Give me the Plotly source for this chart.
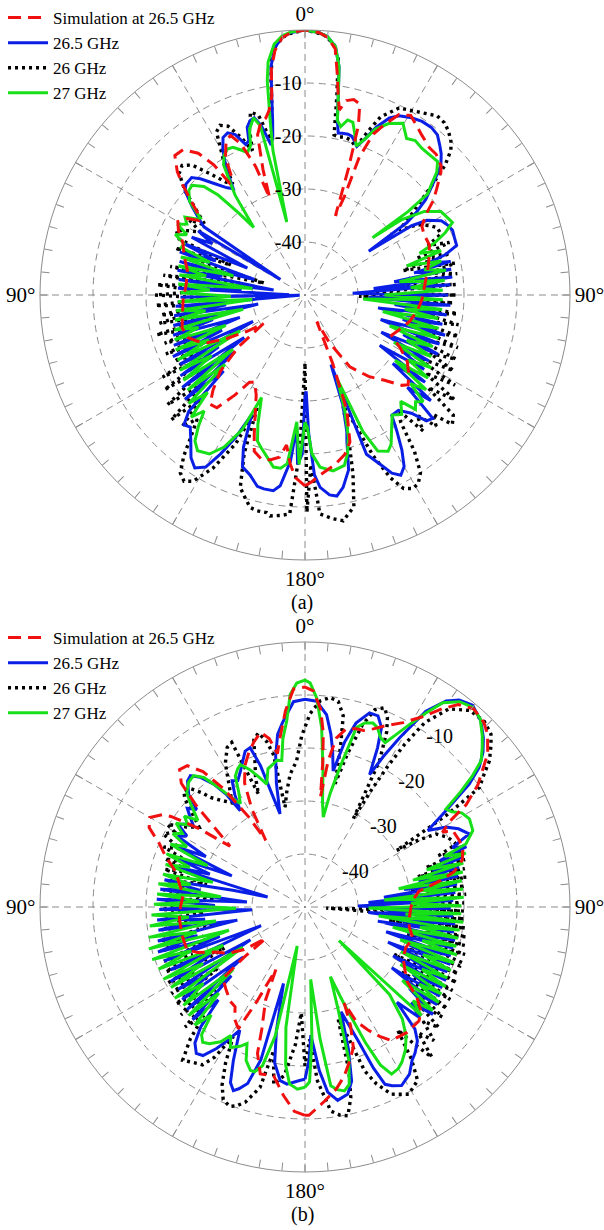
import plotly.graph_objects as go

# ---------------- data: (angle in degrees, normalized gain in dB) ----------------
A_SIM = [(-180,-14),(-177,-15.5),(-175,-18),(-173,-21.5),(-171,-19),(-168,-18.2),(-165,-18),(-162,-19),(-160,-22),(-157,-26),(-154,-29),(-150,-31),(-147.5,-30.5),(-145,-27),(-142,-23),(-139,-22.7),(-136,-25),(-132,-28.5),(-128,-34),(-124.5,-40.5),(-122,-37),(-119,-33),(-116,-29.5),(-113,-27.8),(-110,-26.5),(-105,-26),(-100,-26.5),(-92,-27),(-85,-27.5),(-78,-27.3),(-72,-26),(-67,-25),(-63,-23.2),(-60,-22.3),(-57,-23.5),(-55,-25.5),(-52.5,-24.4),(-50,-21.5),(-48,-19),(-46,-16.5),(-43,-14),(-40,-14.2),(-37,-16.5),(-35,-20),(-34,-24.5),(-32,-24),(-30,-20),(-27,-17.2),(-25,-16.8),(-23,-19),(-21,-24),(-20,-30.5),(-18.5,-25),(-16.5,-18.5),(-14.5,-16.5),(-12.5,-15.8),(-11,-14.5),(-9.5,-12),(-8.5,-7),(-7,-3.5),(-5,-1.2),(-3,-0.4),(0,0),(3,-0.4),(5,-1.2),(7,-3.2),(8.2,-7.5),(9.5,-12),(10.5,-14.5),(12,-12.5),(14,-12),(16,-12.5),(17.5,-16.5),(19,-25),(21,-34),(21.8,-30),(21.5,-22),(23,-17),(25,-14.5),(27.5,-11.6),(30.5,-10.7),(33,-11.6),(36,-12.6),(40,-13.6),(43,-13.7),(46.5,-14.6),(48,-15.5),(51,-18),(53.5,-19.8),(56,-22.3),(59.5,-24.4),(63,-24.8),(68,-24.7),(73,-25.5),(78,-26.3),(85,-27.3),(92,-27.9),(98,-28.6),(104,-29.6),(110,-31),(115,-32),(119,-29.5),(123,-27),(127,-25.5),(131,-24.2),(133,-25),(137,-28),(142,-30.5),(148,-34),(153,-40),(156,-44.5),(158,-36),(160,-27),(163,-21),(166,-19),(170,-17.5),(175,-16),(178,-14.7),(180,-14)]

A_265 = [(-180,-31),(-179,-20),(-177.5,-18),(-176.4,-25),(-175,-18.5),(-172.6,-13.7),(-170.8,-12.6),(-168,-12.6),(-166,-12.8),(-163,-14.5),(-160,-15.5),(-158,-19),(-156,-25.3),(-154,-20),(-152,-16),(-150,-12.5),(-147.5,-11.3),(-145,-12.5),(-142,-15),(-139,-17),(-137,-16.5),(-135,-19),(-133,-29),(-131,-20),(-129,-33),(-127,-21),(-125,-36),(-123,-22),(-121,-31),(-119,-23),(-117,-39),(-115,-22.5),(-113,-33),(-111,-23.5),(-109,-37),(-107,-24),(-105,-32),(-103,-24.5),(-101,-41),(-99,-25),(-97,-35),(-95,-25.5),(-93,-49),(-91,-26.5),(-89,-47),(-87,-26),(-85,-38),(-83,-26),(-81,-44),(-79,-25.5),(-77,-34),(-75,-25.5),(-73,-40),(-71,-25),(-69,-32),(-67,-25),(-65,-38),(-63,-26),(-61,-30),(-59,-26.5),(-57.6,-44.5),(-56,-27),(-55,-26),(-52,-23),(-49,-20),(-47,-19.3),(-44,-19.2),(-42,-20.5),(-39,-23),(-36,-25),(-34,-25.8),(-32,-22),(-29.5,-18.5),(-27.5,-16.5),(-25.5,-16.1),(-23.5,-17),(-21.5,-19.5),(-20,-19),(-19,-16.5),(-17.5,-15.5),(-16,-15.2),(-14.5,-17),(-12.7,-21),(-11.5,-19.5),(-10.5,-16.5),(-9.5,-12),(-8.5,-6.5),(-7,-3),(-5,-1.1),(-3,-0.4),(0,0),(3,-0.4),(5,-1.1),(7,-2.8),(8.5,-6.5),(9.5,-12),(10.5,-16.5),(11.6,-18.8),(13,-18.7),(15,-18.6),(16.5,-18.8),(18,-19.6),(19.2,-20.3),(21,-18.5),(23,-15.6),(25.5,-13),(27.7,-11.8),(31,-11),(34,-10.5),(37,-10.4),(39.6,-10.8),(42,-12),(44,-13),(46.4,-14.6),(49,-18),(51.7,-21),(53.5,-24),(54.6,-26.4),(55.5,-35.4),(57,-26),(58.5,-23),(61.4,-20.7),(64,-20),(66.3,-19.6),(69,-19.8),(71.9,-19.9),(74,-22.5),(75.5,-26),(77,-21.8),(78.5,-29),(80,-22),(81.5,-33),(83,-22),(84.5,-37),(86,-22.5),(88,-41),(90,-23),(92,-38),(94,-22.5),(96,-33),(98,-23),(100,-36),(102,-23.5),(104,-31),(106,-22.5),(108,-35),(110,-23),(112,-30),(114,-22.5),(116,-34),(118,-23.5),(120,-29),(122,-23.5),(124,-33),(126,-22),(128,-29),(130,-19),(132,-24),(134,-16.5),(136,-17),(138,-20),(141,-22),(144.2,-22),(146,-19),(148,-15.5),(150,-12.6),(152,-11.5),(154,-12.6),(156,-15),(158.9,-17.8),(159.5,-36),(161,-28),(163,-23),(164,-21.3),(166,-16),(168.8,-13),(171,-11.6),(173,-12),(175.5,-13.6),(177,-16),(178.5,-24),(179.3,-31.8),(180,-31)]

A_26 = [(-180,-37),(-178,-20),(-176,-8.6),(-174,-8.2),(-171,-7.8),(-170,-8.3),(-167.5,-8.3),(-165.5,-8.6),(-163,-10.5),(-161.4,-11.7),(-159,-18),(-157,-27),(-155,-19),(-152,-13),(-149,-9),(-147,-8.1),(-145,-9),(-143,-12),(-141,-16),(-139,-19),(-137,-16),(-135,-22),(-133,-15.5),(-131,-25),(-128.6,-16.8),(-126,-27),(-124,-18),(-122,-28),(-120,-19),(-118,-27),(-116.9,-22.3),(-115,-30),(-113,-21.5),(-111,-31),(-109,-22),(-107,-29),(-105,-21),(-103,-33),(-101,-22),(-99,-28),(-97.9,-22.5),(-96,-30),(-94,-21.7),(-92,-32),(-90,-21.7),(-88,-30),(-86,-22),(-84,-34),(-82,-23),(-80,-38),(-78,-24),(-76,-36),(-73.8,-42),(-72,-30),(-70,-24),(-68,-35),(-66,-24),(-63.3,-22.8),(-61,-25),(-59,-27),(-57,-24),(-55,-27),(-52,-24),(-49,-20),(-46,-17),(-43.5,-16.3),(-41,-17.5),(-38,-21),(-35,-24),(-33,-25),(-31,-20),(-28.5,-15),(-26.6,-14.2),(-24.5,-15),(-22,-18),(-20,-21),(-18.5,-17),(-16.6,-14),(-14.5,-15),(-12.5,-20),(-11,-17.5),(-10,-14),(-9,-9),(-8,-5),(-6.5,-2.3),(-4,-0.7),(0,0),(4,-0.7),(6.5,-2.3),(8,-5),(9.1,-12),(10.3,-19.3),(12,-19.5),(14,-19.3),(16.5,-19.5),(19,-20.5),(21,-17),(23,-13.5),(26.7,-10.5),(31.7,-9.4),(36.4,-8),(39,-8.2),(41.2,-8.9),(43.5,-10),(45.2,-11.2),(47.2,-14),(49,-18),(51,-22),(53,-25),(55.5,-28.4),(58,-25),(61,-23),(63,-22),(65.9,-21.9),(68,-25),(70,-21),(72,-28),(74,-21.5),(76,-31),(78,-21),(80,-26),(82,-21),(84,-33),(86,-21.5),(88,-37),(90,-21.5),(91.5,-39.8),(93,-22),(95,-30),(97,-21),(99,-27),(101,-20.5),(103,-29),(105,-20),(107,-26),(109,-19.5),(111,-28),(113,-19),(115,-24),(117,-18.5),(119,-26),(121,-17),(123,-23),(125,-15.5),(127,-21),(129,-14),(131.3,-13),(133,-17),(135,-15),(137,-19),(139,-16),(141,-22),(143,-20),(145,-14),(147,-10),(149,-8.5),(150.8,-8.2),(153,-9),(155,-12),(157,-17),(159,-24),(161,-28),(163,-22),(165,-15),(167,-9),(170.4,-6.8),(173,-7.5),(176.1,-8.6),(178,-18),(179.5,-9),(180,-37)]

A_27 = [(-180,-26),(-178,-18),(-176.3,-26),(-174,-18),(-172,-17),(-169.6,-17),(-167,-18.5),(-164,-20),(-162,-21),(-160,-24),(-157,-29),(-155,-22),(-152,-17.5),(-149,-15),(-145.4,-14.3),(-143,-15.5),(-141,-18),(-139,-21),(-137,-18.5),(-135,-24),(-133,-20),(-131,-30),(-129,-21.5),(-127,-33),(-125,-22),(-123,-29),(-121,-22.5),(-119,-36),(-117,-23),(-115,-30),(-113,-23.5),(-111,-34),(-109,-24),(-107,-29),(-105,-24.5),(-103,-38),(-101,-25),(-99,-31),(-97,-25.5),(-95,-40),(-93,-26),(-91,-36),(-89,-26.5),(-87,-32),(-85,-26),(-83,-40),(-81,-26),(-79,-31),(-77,-25.5),(-75,-36),(-73,-25.5),(-71,-31),(-69,-25),(-67,-25.2),(-65,-23),(-63,-25),(-61,-22.5),(-59,-24),(-57,-23),(-55,-25),(-53.7,-25.5),(-51,-22),(-48,-20.5),(-45.8,-20.3),(-43,-22),(-41,-25),(-39,-30),(-37.2,-34),(-35,-27),(-32,-21),(-30,-19.5),(-28,-18.8),(-26,-19),(-24,-20),(-22,-21),(-20,-20),(-18.5,-17),(-16.2,-15.2),(-14.8,-17),(-14,-35.8),(-12.5,-22),(-11.3,-16.5),(-10,-9),(-9,-5.5),(-7,-2.3),(-5,-0.9),(-3,-0.3),(0,0),(3,-0.4),(5,-1.1),(7,-2.8),(8.5,-6.5),(9.5,-12),(10.5,-16.5),(12,-17.5),(13.7,-16),(15.5,-16.2),(17,-18),(19,-20.3),(21,-18.5),(23,-16),(26,-14),(29.7,-12.7),(33,-14.8),(35.5,-14.2),(38.6,-14.6),(42,-14.6),(44.8,-14.5),(47,-16),(49,-18.5),(50.5,-20),(51,-25),(49.7,-33.3),(52,-27),(55,-22.5),(58.4,-19.9),(61,-19.5),(63.8,-19),(66,-21),(68,-23.5),(70,-27),(72,-23),(74,-30),(76,-23.5),(78,-27),(80,-23),(82,-32),(84,-23.5),(86,-30),(88,-24),(90,-35),(92,-24),(94,-39),(96,-24),(98,-31),(100,-24.5),(102,-35),(104,-24),(106,-30),(108,-23.5),(110,-33),(112,-24),(114,-29),(116,-23.5),(118,-31),(120,-22.5),(122,-27),(124,-22),(126,-29),(128,-21),(130,-24),(132,-20),(134,-21),(136,-20),(138,-23),(141,-21),(144,-22),(147,-20),(150,-17.5),(152,-16.6),(155,-17.5),(157,-22),(159,-33),(161,-27),(163,-22),(165,-19),(167,-17),(170.9,-16.4),(175,-17.4),(177.5,-20),(179,-25),(180,-26)]

B_SIM = [(-180,-10.7),(-177,-11.4),(-173.5,-14.2),(-169.5,-17.6),(-165,-17.4),(-162,-21),(-160.5,-25.6),(-157,-31),(-155,-37),(-153,-30),(-151.3,-23.8),(-148,-25),(-145,-27),(-141.6,-27.3),(-136,-28.5),(-131,-29.5),(-129.5,-35),(-128.7,-40.5),(-125,-36),(-121,-33),(-116.6,-31),(-113,-28),(-110,-26.3),(-103,-26.2),(-95.4,-26.2),(-90,-26.5),(-84.5,-26.9),(-80,-26),(-74.7,-24.7),(-70,-22),(-66.6,-20.1),(-63,-17),(-60,-16.2),(-57,-18),(-55.9,-19.6),(-53.5,-25.1),(-51,-31.8),(-49,-28),(-47,-22),(-45,-17),(-42.4,-14.9),(-39.8,-15.3),(-37,-18),(-34.5,-23),(-32,-30),(-30.5,-35.4),(-28.5,-29),(-26,-24),(-23,-21),(-20,-19),(-17.2,-17.4),(-14.3,-16),(-12,-17.5),(-10.2,-20.6),(-8.4,-17.7),(-5.7,-12.8),(-3,-8.8),(0,-8.5),(2.2,-9.2),(4.5,-12.5),(6,-17),(7,-22.5),(8,-29),(9,-22),(10.5,-17.6),(13,-15.5),(16,-15),(18.4,-14.9),(21,-14),(23.5,-12.8),(28,-10.6),(31.7,-7.8),(34.7,-4.5),(37.1,-2.1),(40.4,-0.9),(44.1,-1.5),(46.6,-2.6),(50,-5),(54.8,-10.1),(57.6,-14),(59.3,-18.1),(61.5,-20.5),(62.6,-18.6),(66.7,-18.3),(70,-18.3),(73.3,-19),(76.7,-21.1),(79,-24),(82.1,-28.3),(86,-29.5),(90,-30),(95,-30.2),(100.7,-30),(106.2,-28.8),(112,-29.5),(117.5,-29.1),(122,-27.8),(126.2,-26.1),(128.9,-22.9),(132,-20.5),(135,-19.6),(140.9,-19.5),(147.1,-20),(150,-21.8),(153,-24),(155.9,-26.4),(157.8,-30.4),(159,-26),(161,-22),(163.6,-19.9),(167,-17.2),(170.2,-15.2),(174.2,-13.2),(178.9,-10.7),(180,-10.7)]

B_265 = [(-180,-17.5),(-178.5,-17.3),(-176,-16.8),(-174.2,-16.4),(-171.9,-16.9),(-169,-20),(-167,-26),(-164.3,-35),(-163.9,-20),(-162,-15),(-160,-13.5),(-158.7,-12.8),(-157,-14),(-155,-18),(-152.1,-23.7),(-150,-21),(-148,-18.5),(-145.5,-16),(-143.4,-15.6),(-141,-17),(-139,-20),(-137,-26),(-135,-20),(-133,-31),(-131,-20.5),(-129,-35),(-127,-21),(-125,-28),(-123,-21.5),(-121,-38),(-119,-21),(-117,-30),(-115,-22),(-113,-41),(-111,-21.5),(-109,-33),(-107,-21),(-105,-29),(-103,-21.5),(-101,-37),(-99,-22),(-97,-31),(-95,-22),(-93,-40),(-91,-22.5),(-89,-33),(-87,-22),(-85,-39),(-83,-22.5),(-81,-30),(-79,-23),(-77,-36),(-75,-42.7),(-73,-23),(-71,-31),(-69,-23.5),(-67,-35),(-65,-23),(-63,-29),(-61,-22.5),(-59,-24),(-57,-21.5),(-55.6,-22.3),(-54,-24),(-52,-22.5),(-50,-21),(-48,-22.5),(-46,-19.5),(-43,-17.5),(-41.1,-17.1),(-39,-18.5),(-36.6,-21.1),(-35,-24),(-33.9,-28.1),(-32,-25),(-30,-22.5),(-28,-23),(-25.4,-21.6),(-23,-20),(-21,-18.5),(-19,-18.2),(-17.5,-22),(-15,-31.8),(-13,-26),(-11,-21),(-9,-17),(-7,-15),(-5.4,-13.5),(-3.2,-11.2),(0,-10.8),(3.2,-11.1),(6.4,-13.5),(8.5,-17),(10,-20),(11.7,-23.8),(13.5,-18),(15.5,-14),(18.4,-11.4),(20.9,-11.4),(23.1,-13.2),(24.5,-17),(26,-22.2),(27.5,-18),(29.2,-13.4),(31.7,-6.6),(34.4,-2.9),(36.7,-1.3),(39.7,-0.5),(43.4,-1.7),(46.5,-3.6),(49,-5.5),(51.3,-7.9),(53.2,-11.3),(56,-18.6),(58.1,-22.7),(60.5,-19.4),(63,-17.5),(66,-16.1),(68,-20),(69.5,-17.5),(71,-23),(72.4,-18.8),(74,-25),(75.5,-20),(77,-28),(78.5,-20.5),(80,-31),(81.5,-21),(83,-35),(84.5,-21.5),(86,-38),(87.5,-22),(89,-40),(90.5,-22.5),(92,-35),(93.5,-22),(95,-38),(96.5,-21.5),(98,-32),(99.5,-21.5),(101,-36),(102.5,-21),(104,-30),(105.5,-21),(107,-34),(108.5,-21),(110,-29),(111.5,-20.5),(113,-33),(114.5,-20.5),(116,-28),(117.5,-20),(119,-31),(120.5,-20),(122,-26),(123.5,-19.5),(125,-30),(126.5,-19),(128,-25),(130,-18.5),(132,-23),(134,-20),(136,-25),(138,-19),(140,-17),(143,-15.5),(145.1,-14.7),(148,-12.8),(151.6,-11.7),(154,-12.5),(155.7,-13.3),(157,-17),(158.4,-23),(161,-29.1),(163,-22),(165,-16),(167.1,-13.8),(170.4,-13),(173,-14.8),(175,-19),(177.4,-25.8),(178.5,-21),(180,-17.5)]

B_26 = [(-180,-20),(-178,-30),(-176,-24),(-173,-18),(-170,-16),(-167.7,-22.3),(-166,-14.9),(-163,-11.5),(-161,-10.3),(-159.3,-9.8),(-157,-10.5),(-155,-13),(-153,-17),(-151,-22),(-149,-17),(-147,-14.5),(-146,-14.3),(-143,-13.5),(-141.4,-13),(-139,-17),(-137,-22),(-135,-18),(-133,-27),(-131,-19),(-129,-24),(-127,-19.5),(-125,-30),(-123,-20),(-121,-26),(-119,-20.5),(-117,-33),(-115,-21),(-113,-27),(-111,-21.5),(-109,-31),(-107,-22),(-105,-26),(-103,-22),(-101,-34),(-99,-22.5),(-97,-28),(-95,-23),(-93,-31),(-91,-23),(-89,-27),(-87,-23.5),(-85,-33),(-83,-23),(-81,-28),(-79,-23.5),(-77,-31),(-75,-22.5),(-73,-28),(-71,-22),(-69,-27),(-67,-21),(-65,-24),(-62.8,-20),(-60,-21.5),(-59,-19.7),(-56,-23),(-53,-25),(-50,-22),(-48,-19.5),(-46.2,-18.3),(-44,-19),(-42,-21),(-40.8,-22.7),(-38,-24.5),(-35,-26),(-32,-23),(-29,-19),(-26,-16.5),(-24,-16),(-22.4,-27),(-21,-24),(-19,-21),(-17,-17),(-15,-16),(-13,-18),(-11.7,-20.6),(-11.3,-30.8),(-9,-28),(-6.4,-24.8),(-3.3,-22.4),(-1.1,-17.7),(1.5,-13.5),(4.2,-11),(6.8,-10.2),(9.2,-10.7),(11.3,-13.2),(12.5,-19),(13.7,-26.1),(15.5,-20),(17.5,-14),(19.5,-10.5),(21.8,-9.5),(23.5,-11),(25,-13.5),(27,-19),(28.7,-31),(29.5,-25),(30.5,-19),(31.5,-14),(33,-8.5),(36,-3.8),(40,-1.6),(44,-1.3),(47.1,-2.1),(49,-3.5),(51.6,-5.6),(53.5,-8),(55.6,-10.1),(57,-18),(58.3,-29.7),(59.5,-25),(60.9,-21.7),(64,-20),(67.4,-19.1),(69,-23),(70.5,-18.5),(72,-26),(73.5,-18.5),(75,-28),(76.5,-19),(78,-25),(79.5,-19),(81,-30),(82.5,-19.5),(84,-27),(85.5,-19.5),(87,-33),(88.5,-20),(90,-30),(91.5,-20),(93,-46),(94.2,-19.9),(96,-28),(97.5,-19.5),(99,-34),(100.5,-19),(102,-27),(103.5,-19),(105,-30),(106.5,-18.5),(108,-26),(109.5,-18.5),(110.8,-18.7),(112,-29),(113.5,-18.5),(115,-26),(116.5,-18),(118,-31),(119.5,-18),(121,-25),(122.5,-17.5),(124,-28),(125.5,-17),(127,-23),(128.7,-16.8),(130.5,-22),(132,-16),(134,-19),(136,-15),(138,-18),(139.8,-12.9),(141.5,-17),(143,-21),(145,-15),(147,-11),(151,-9.6),(155.2,-11.1),(158,-14),(160,-17.1),(162,-25),(163.5,-28),(165,-18),(166.5,-13),(168.4,-9.8),(170.5,-10.2),(172.8,-11.2),(175.9,-17.1),(178,-25),(180,-20)]

B_27 = [(-180,-16),(-177.6,-15.6),(-175,-16.5),(-173,-20),(-171,-27),(-168.7,-42.5),(-167,-25),(-165,-19),(-163,-17.5),(-161.5,-17.5),(-159,-19),(-157,-22),(-155,-21),(-152,-20),(-150,-22),(-148,-20),(-145,-18.5),(-142.9,-18),(-141,-19),(-139,-23),(-137,-19.5),(-135,-27),(-133,-20),(-131,-32),(-129,-20.5),(-127,-26),(-125,-20),(-123,-36),(-121,-20.5),(-119,-28),(-117,-20),(-115,-33),(-113,-20),(-111,-27),(-109,-19.5),(-107,-35),(-105,-19.5),(-103,-29),(-101,-20),(-99,-33),(-97,-20.5),(-95,-28),(-93,-21),(-91,-37),(-89,-21.5),(-87,-30),(-85,-22),(-83,-34),(-81,-22),(-79,-28),(-77,-22.5),(-75,-32),(-73,-22.5),(-71,-27),(-69,-22),(-67,-30),(-65,-22),(-63,-25),(-61,-21.5),(-59,-23),(-57,-21),(-55,-23),(-53,-21.5),(-51,-24),(-48,-21),(-46,-19),(-43,-17.8),(-40.3,-17.5),(-38,-19),(-36,-22),(-34,-25),(-32,-27),(-30,-25),(-28,-22),(-26,-21),(-24.4,-20.5),(-22,-22),(-19.5,-24),(-17.3,-25.7),(-15,-23),(-13,-22.5),(-10.8,-21.8),(-9,-22),(-7.5,-18),(-5.6,-14.7),(-4,-9.8),(-2.1,-7.7),(0,-7.2),(1.3,-7.7),(3.2,-10.5),(5.3,-16),(7.5,-24),(9.5,-30),(11.5,-32.7),(12.5,-28),(14,-22.9),(16,-14.8),(18,-13.5),(20.3,-13),(22,-13.5),(24,-15),(26,-15.5),(28,-13),(30,-10),(32,-6.8),(34,-3.5),(37,-1.5),(40,-0.8),(43,-1.5),(46,-3.5),(48,-5),(50.3,-6.8),(52,-10),(53.5,-13.5),(55.2,-17.6),(57,-17),(59,-15.5),(61.8,-14.8),(65.5,-15.2),(68.6,-17.4),(70,-22),(71.5,-18),(73,-26),(74.5,-19),(76,-29),(77.5,-19.5),(79,-32),(80.5,-20),(82,-28),(83.5,-20),(85,-35),(86.5,-20),(88,-30),(89.5,-20.5),(91,-38),(92.5,-20.5),(94,-31),(95.5,-20),(97,-36),(98.5,-20.5),(100,-28),(101.5,-20.5),(103,-33),(104.5,-20.5),(106,-27),(107.5,-20),(109,-31),(110.5,-20),(112,-26),(113.5,-20),(115,-30),(116.5,-20),(118,-25),(119.5,-19.5),(121,-29),(122.5,-19.5),(124,-24),(125.5,-19),(127,-27),(129,-19),(131,-23),(133,-20),(134.6,-41),(136,-27),(139,-22),(142,-19),(145,-17),(148,-15.5),(150,-14.8),(152.6,-14.5),(154.5,-17),(156,-22),(158,-30),(160,-36),(162,-30),(164,-20),(166,-15.5),(167.9,-14.5),(170,-15),(171.8,-15.9),(173.5,-25),(175.5,-36.3),(177,-25),(178.5,-17),(180,-16)]

LEGEND_NAMES = ["Simulation at 26.5 GHz", "26.5 GHz", "26 GHz", "27 GHz"]
RING_VALUES = [-40, -30, -20, -10]
RING_TEXT = ["-40", "-30", "-20", "-10"]
SPOKE_ANGLES = list(range(0, 360, 30))
ANGLE_TICKS = list(range(0, 360, 5))
ANGLE_LABELS = {0: "0°", 90: "90°", 180: "180°", 270: "90°"}

FONT = "Times New Roman, Liberation Serif, DejaVu Serif, serif"
GRAY = "#8c8c8c"

fig = go.Figure()

def add_spokes(sub):
    th, rr = [], []
    for a in SPOKE_ANGLES:
        th += [a, a, None]
        rr += [0, -50, None]
    fig.add_trace(go.Scatterpolar(r=rr, theta=th, mode="lines", subplot=sub,
                                  line=dict(color=GRAY, width=1, dash="7px,5px"),
                                  showlegend=False, hoverinfo="skip"))

def add_series(data, name, rank, color, dash, width, sub, legend):
    fig.add_trace(go.Scatterpolar(
        theta=[p[0] for p in data], r=[p[1] for p in data], name=name,
        mode="lines", subplot=sub, legend=legend, legendrank=rank,
        line=dict(color=color, width=width, dash=dash)))

for sub, leg, (sim, m265, m26, m27) in [("polar", "legend", (A_SIM, A_265, A_26, A_27)),
                                        ("polar2", "legend2", (B_SIM, B_265, B_26, B_27))]:
    add_spokes(sub)
    add_series(m26, LEGEND_NAMES[2], 3, "black", "3px,4px", 3.4, sub, leg)
    add_series(m265, LEGEND_NAMES[1], 2, "#0a1fe6", "solid", 3, sub, leg)
    add_series(m27, LEGEND_NAMES[3], 4, "#18e018", "solid", 3, sub, leg)
    add_series(sim, LEGEND_NAMES[0], 1, "#f01010", "13px,7px", 3, sub, leg)

def polar_layout(ydom, rad_angle, rad_side):
    return dict(
        domain=dict(x=[40/604, 570/604], y=ydom),
        bgcolor="white",
        angularaxis=dict(rotation=90, direction="clockwise", tickmode="array",
                         tickvals=ANGLE_TICKS,
                         ticktext=[ANGLE_LABELS.get(a, "") for a in ANGLE_TICKS],
                         ticks="inside", ticklen=8, tickcolor=GRAY, tickwidth=1,
                         showline=True, linecolor=GRAY, linewidth=1, showgrid=False,
                         tickfont=dict(family=FONT, size=21, color="black")),
        radialaxis=dict(range=[-50, 0], tickmode="array", tickvals=RING_VALUES,
                        ticktext=RING_TEXT, showline=False, ticks="", tickangle=rad_angle,
                        showgrid=True, gridcolor=GRAY, gridwidth=1, griddash="7px,5px",
                        angle=rad_angle, side=rad_side,
                        tickfont=dict(family=FONT, size=20, color="black")))

fig.update_layout(
    width=604, height=1230, margin=dict(l=0, r=0, t=0, b=0),
    paper_bgcolor="white", plot_bgcolor="white",
    font=dict(family=FONT, color="black"),
    polar=polar_layout([1-560/1230, 1-30/1230], 90, "counterclockwise"),
    polar2=polar_layout([1-1172/1230, 1-642/1230], 58, "clockwise"),
    legend=dict(x=0.005, y=1.0, xanchor="left", yanchor="top", bgcolor="rgba(0,0,0,0)",
                font=dict(family=FONT, size=17), itemwidth=40, tracegroupgap=0),
    legend2=dict(x=0.005, y=1-620/1230, xanchor="left", yanchor="top", bgcolor="rgba(0,0,0,0)",
                 font=dict(family=FONT, size=17), itemwidth=40, tracegroupgap=0),
    annotations=[
        dict(text="(a)", x=0.5, y=1-602/1230, xref="paper", yref="paper", showarrow=False,
             xanchor="center", yanchor="middle", font=dict(family=FONT, size=20)),
        dict(text="(b)", x=0.5, y=1-1214/1230, xref="paper", yref="paper", showarrow=False,
             xanchor="center", yanchor="middle", font=dict(family=FONT, size=20)),
    ],
)

fig.write_html("out.html")
